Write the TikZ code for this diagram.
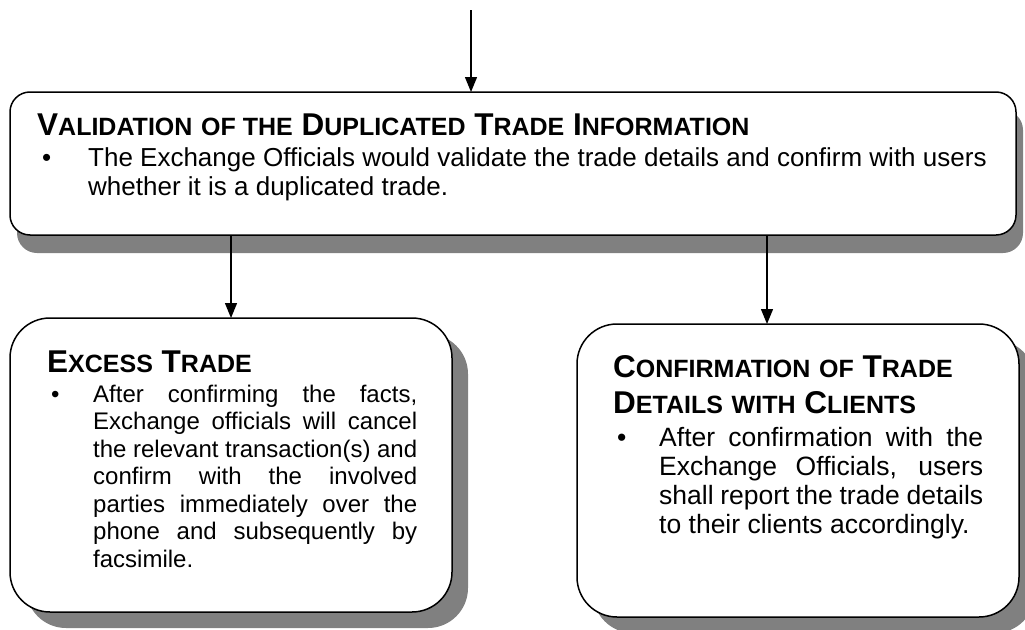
\documentclass[tikz,border=0pt]{standalone}
\usepackage{fontspec}
\setmainfont{Liberation Sans}
\usetikzlibrary{positioning,calc,shadows,arrows.meta}
\definecolor{shadowgrey}{HTML}{808080}
% small capitals made by hand: big first letter, smaller rest
\newcommand{\smcap}[2]{#1{\fontsize{25}{30}\selectfont #2}}
% one justified line of a bullet text
\newcommand{\jline}[1]{\makebox[\linewidth][s]{#1}\\}
\begin{document}
\begin{tikzpicture}[x=1pt,y=-1pt,
  flow/.style={line width=1.3pt,-{Triangle[width=12pt,length=15pt]}},
  stepbox/.style={draw,line width=1.5pt,fill=white,inner sep=0pt,outer sep=0pt,anchor=north west},
  boxshadow/.style 2 args={drop shadow={shadow xshift=#1,shadow yshift=#2,fill=shadowgrey,opacity=1}},
  head/.style={anchor=base west,inner sep=0pt,font=\fontsize{31.5}{36}\selectfont\bfseries},
  body/.style={anchor=base west,inner sep=0pt}]
  \useasboundingbox (0,0) rectangle (1025,629);

  % boxes
  \node[stepbox,rounded corners=20pt,minimum width=1006pt,minimum height=143pt,
        boxshadow={7pt}{-18pt}] (valid) at (10,92) {};
  \node[stepbox,rounded corners=40pt,minimum width=442pt,minimum height=294pt,
        boxshadow={16pt}{-16pt}] (excess) at (10,318) {};
  \node[stepbox,rounded corners=40pt,minimum width=442pt,minimum height=293pt,
        boxshadow={16pt}{-16pt}] (confirm) at (577,324) {};

  % top box text
  \node[head] (validhead) at (37,135)
    {\smcap{V}{ALIDATION} \smcap{}{OF THE} \smcap{D}{UPLICATED} \smcap{T}{RADE} \smcap{I}{NFORMATION}};
  \node[body,font=\fontsize{26}{29.5}\selectfont] (validdot) at (42,166) {\textbullet};
  \node[body,font=\fontsize{26}{29.5}\selectfont] (validtxt) at (88,166)
    {\parbox[t]{920pt}{The Exchange Officials would validate the trade details and confirm with users\\
     whether it is a duplicated trade.}};

  % left box text
  \node[head] (excesshead) at (47,372) {\smcap{E}{XCESS} \smcap{T}{RADE}};
  \node[body,font=\fontsize{24}{27.5}\selectfont] (excessdot) at (51,402) {\textbullet};
  \node[body,font=\fontsize{24}{27.5}\selectfont] (excesstxt) at (93,402)
    {\parbox[t]{324pt}{\jline{After confirming the facts,}\jline{Exchange officials will cancel}%
     \jline{the relevant transaction(s) and}\jline{confirm with the involved}%
     \jline{parties immediately over the}\jline{phone and subsequently by}facsimile.}};

  % right box text
  \node[head] (confirmhead) at (613,377)
    {\parbox[t]{400pt}{\smcap{C}{ONFIRMATION} \smcap{}{OF} \smcap{T}{RADE}\\
     \smcap{D}{ETAILS} \smcap{}{WITH} \smcap{C}{LIENTS}}};
  \node[body,font=\fontsize{26.5}{29}\selectfont] (confirmdot) at (617,446) {\textbullet};
  \node[body,font=\fontsize{26.5}{29}\selectfont] (confirmtxt) at (659,446)
    {\parbox[t]{324pt}{\jline{After confirmation with the}\jline{Exchange Officials, users}%
     \jline{shall report the trade details}to their clients accordingly.}};

  % connectors
  \coordinate (entry) at (471,10);
  \coordinate (split) at (767,235);
  \draw[flow] (entry) -- (entry |- valid.north);
  \draw[flow] (valid.south -| excess.north) -- (excess.north);
  \draw[flow] (split) -- (split |- confirm.north);
\end{tikzpicture}
\end{document}
